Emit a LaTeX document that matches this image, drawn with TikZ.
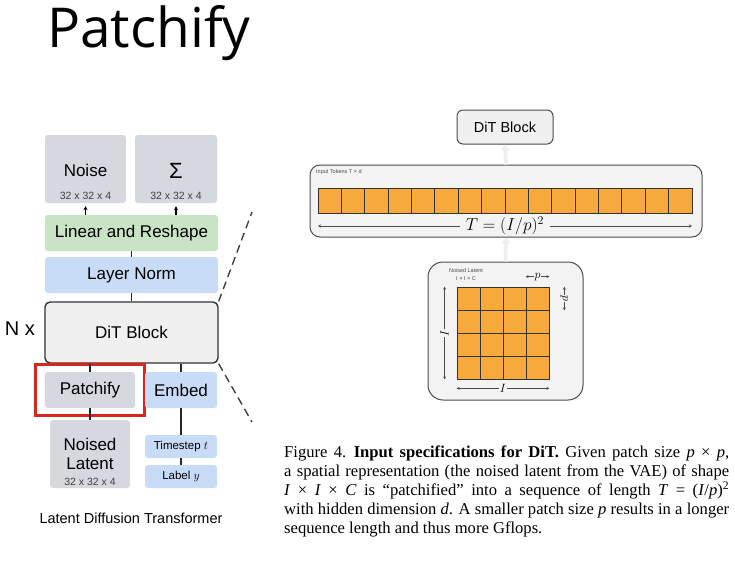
\documentclass[tikz,border=0pt]{standalone}
\usepackage{fontspec}
\setmainfont{Liberation Serif}
\newfontfamily\diagfont{Liberation Sans}
\newfontfamily\titlefont{Open Sans}
\usetikzlibrary{arrows.meta,fit}
\definecolor{boxgray}{HTML}{D5D8DF}
\definecolor{boxgreen}{HTML}{C9E3C5}
\definecolor{boxblue}{HTML}{C9DCF7}
\definecolor{blockfill}{HTML}{F0F0F1}
\definecolor{tokenorange}{HTML}{F8A93C}
\definecolor{panelfill}{HTML}{F3F3F3}
\definecolor{framered}{HTML}{D9261F}
\tikzset{
  BoxStyle/.style = { rounded corners=3pt, inner sep=0pt },
  GrayBox/.style = { BoxStyle, fill=boxgray },
  GreenBox/.style = { BoxStyle, fill=boxgreen },
  BlueBox/.style = { BoxStyle, fill=boxblue },
  BlockStyle/.style = { rounded corners=5pt, fill=blockfill, draw=black!80, line width=1.4pt },
  PanelStyle/.style = { rounded corners=10pt, fill=panelfill, draw=black!70, line width=1pt },
  BoxText/.style = { inner sep=0pt, font=\diagfont\fontsize{17}{20}\selectfont },
  SizeText/.style = { inner sep=0pt, text=black!75, font=\diagfont\fontsize{10.5}{12}\selectfont },
  SmallText/.style = { inner sep=0pt, font=\diagfont\fontsize{11.5}{13}\selectfont },
  TinyText/.style = { inner sep=0pt, text=black!70, font=\diagfont\fontsize{5.5}{6}\selectfont },
  Cell/.style = { fill=tokenorange, draw=black!80, line width=0.8pt, inner sep=0pt },
  Link/.style = { draw=black!85, line width=1.6pt },
  Feed/.style = { draw=black, line width=1.2pt, -{Stealth[length=4pt,width=4pt]}, shorten >=3pt },
  ZoomLine/.style = { draw=black!75, line width=1.4pt, dash pattern=on 8pt off 5pt },
  FaintArrow/.style = { draw=black!6, line width=4pt, -{Triangle[length=6pt,width=9pt]} },
  DimArrow/.style = { draw=black!70, line width=0.7pt, {Stealth[length=3pt,width=3pt]}-{Stealth[length=3pt,width=3pt]} },
  DimLabel/.style = { fill=panelfill, inner sep=1pt, font=\fontsize{13}{14}\selectfont },
  RedFrame/.style = { draw=framered, line width=3pt },
  CaptionStyle/.style = { inner sep=0pt, text width=445pt, align=justify, font=\fontsize{16.6}{19}\selectfont } }

\begin{document}
\begin{tikzpicture}[x=1pt,y=-1pt]
  \useasboundingbox (0,0) rectangle (735,570);
  \node[inner sep=0pt, anchor=base west, font=\titlefont\fontsize{55}{60}\selectfont] (title) at (47,47) {Patchify};

  \node[GrayBox, minimum width=81, minimum height=68] (noise) at (85.5,169) {};
  \node[GrayBox, minimum width=82, minimum height=68] (sigma) at (176,169) {};
  \node[BoxText] (noiselab) at (85.5,170) {Noise};
  \node[SizeText] (noisesize) at (85.5,196) {32 x 32 x 4};
  \node[inner sep=0pt, font=\diagfont\fontsize{22}{22}\selectfont] (sigmalab) at (176,171) {Σ};
  \node[SizeText] (sigmasize) at (176,196) {32 x 32 x 4};
  \node[GreenBox, minimum width=173, minimum height=36] (linear) at (131.5,233) {};
  \node[BoxText] (linearlab) at (131.5,233) {Linear and Reshape};
  \node[BlueBox, minimum width=173, minimum height=36] (norm) at (131.5,275) {};
  \node[BoxText] (normlab) at (131.5,275) {Layer Norm};
  \node[BlockStyle, minimum width=173, minimum height=61] (dit) at (131.5,332.5) {};
  \node[BoxText] (ditlab) at (131.5,332) {DiT Block};
  \node[inner sep=0pt, font=\diagfont\fontsize{20}{22}\selectfont] (nx) at (20,329) {N x};
  \node[GrayBox, minimum width=90, minimum height=36] (patch) at (90,390) {};
  \node[BoxText] (patchlab) at (90,390) {Patchify};
  \node[RedFrame, fit=(patch), inner xsep=9.5pt, inner ysep=7.5pt] (redframe) {};
  \node[BlueBox, minimum width=72, minimum height=36] (embed) at (181,390) {};
  \node[BoxText] (embedlab) at (181,390) {Embed};
  \node[GrayBox, minimum width=80, minimum height=68] (noised) at (90,454) {};
  \node[BoxText] (noisedlab) at (90,444) {Noised};
  \node[BoxText] (latentlab) at (90,464) {Latent};
  \node[SizeText] (noisedsize) at (90,482) {32 x 32 x 4};
  \node[BlueBox, minimum width=72, minimum height=23] (timestep) at (181,446.5) {};
  \node[SmallText] (timesteplab) at (181,446.5) {Timestep $t$};
  \node[BlueBox, minimum width=72, minimum height=23] (label) at (181,476.5) {};
  \node[SmallText] (labellab) at (181,476.5) {Label $y$};
  \node[inner sep=0pt, font=\diagfont\fontsize{14.5}{16}\selectfont] (leftcap) at (131,518) {Latent Diffusion Transformer};

  \draw[Feed] (linear.north -| noise.south) -- (noise.south);
  \draw[Feed] (linear.north -| sigma.south) -- (sigma.south);
  \draw[Link] (linear.south) -- (norm.north);
  \draw[Link] (norm.south) -- (dit.north);
  \draw[Link] (patch.north) -- (patch.north |- dit.south);
  \draw[Link] (embed.north) -- (embed.north |- dit.south);
  \draw[Link] (patch.south) -- (noised.north);
  \draw[Link] (embed.south) -- (timestep.north);
  \draw[Link] (timestep.south) -- (label.north);

  \coordinate (zoomtop) at (252,212);
  \coordinate (zoombot) at (252,422);
  \draw[ZoomLine] (dit.north east) -- (zoomtop);
  \draw[ZoomLine] (dit.south east) -- (zoombot);

  \node[PanelStyle, rounded corners=6pt, fill=blockfill, minimum width=96, minimum height=34] (ditsmall) at (505,127) {};
  \node[inner sep=0pt, font=\diagfont\fontsize{14.5}{16}\selectfont] (ditsmalllab) at (505,127) {DiT Block};
  \node[PanelStyle, minimum width=392, minimum height=72] (tokens) at (506,201) {};
  \node[TinyText, anchor=west] (tokenslab) at (316,172) {Input Tokens T × d};
  \foreach \i in {0,...,15}
    \node[Cell, minimum width=23.375, minimum height=25] (tok-\i) at (329.6875+23.375*\i,200.5) {};
  \coordinate (tokleft) at (318,226);
  \coordinate (tokright) at (692,226);
  \draw[DimArrow] (tokleft) -- (tokright)
    node[midway, fill=panelfill, inner xsep=6pt, inner ysep=0pt, font=\fontsize{17}{18}\selectfont] (tlen) {$T = (I/p)^2$};

  \node[PanelStyle, rounded corners=15pt, minimum width=155, minimum height=138] (square) at (505.5,331) {};
  \node[TinyText] (squarelab) at (466,271) {Noised Latent};
  \node[TinyText] (squaredim) at (466,279) {I × I × C};
  \foreach \r in {0,...,3}
    \foreach \c in {0,...,3}
      \node[Cell, minimum width=23, minimum height=23] (lat-\r-\c) at (468.5+23*\c,298.5+23*\r) {};
  \draw[DimArrow] ([yshift=10pt]lat-0-3.north west) -- ([yshift=10pt]lat-0-3.north east)
    node[midway, DimLabel] (ptop) {$p$};
  \draw[DimArrow] ([xshift=15pt]lat-0-3.north east) -- ([xshift=15pt]lat-0-3.south east)
    node[midway, DimLabel, rotate=-90] (pside) {$p$};
  \draw[DimArrow] ([xshift=-12pt]lat-0-0.north west) -- ([xshift=-12pt]lat-3-0.south west)
    node[midway, DimLabel, rotate=90] (ileft) {$I$};
  \draw[DimArrow] ([yshift=-9pt]lat-3-0.south west) -- ([yshift=-9pt]lat-3-3.south east)
    node[midway, DimLabel] (ibottom) {$I$};

  \draw[FaintArrow] (tokens.north) -- (ditsmall.south);
  \draw[FaintArrow] (square.north) -- (tokens.south);

  \node[CaptionStyle, anchor=north west] (caption) at (284,446) {Figure 4.\hspace{0.45em}\textbf{Input specifications for DiT.} Given patch size \textit{p} × \textit{p},\linebreak a spatial representation (the noised latent from the VAE) of shape\linebreak \textit{I} × \textit{I} × \textit{C} is “patchified” into a sequence of length \textit{T} = (\textit{I}/\textit{p})\textsuperscript{2}\linebreak with hidden dimension \textit{d}. A smaller patch size \textit{p} results in a longer\linebreak sequence length and thus more Gflops.};
\end{tikzpicture}
\end{document}
